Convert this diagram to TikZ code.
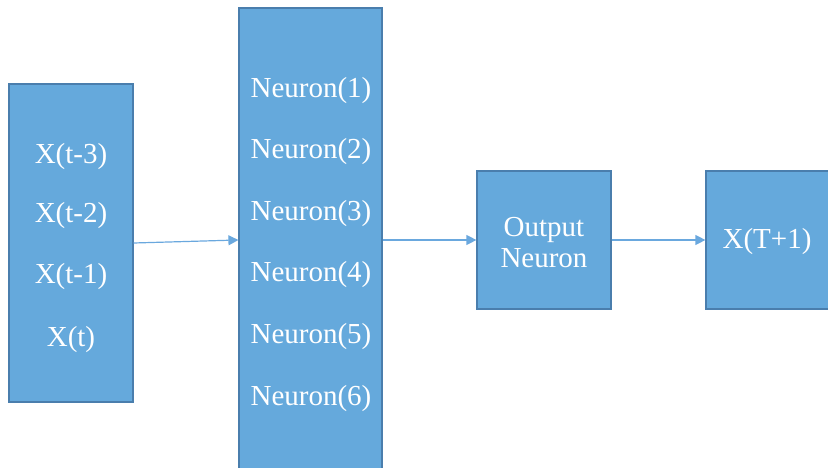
\documentclass[tikz,border=0pt]{standalone}
\usepackage{fontspec}
\setmainfont{Liberation Serif}
\usetikzlibrary{arrows.meta}
\definecolor{boxfill}{HTML}{65A9DC}
\definecolor{boxline}{HTML}{4A7EAD}
\definecolor{arrowcol}{HTML}{6AA8DE}

\begin{document}
\begin{tikzpicture}[x=1pt,y=-1pt,
    layer/.style={draw=boxline, fill=boxfill, line width=1.2pt, inner sep=0pt},
    lbl/.style={text=white, inner sep=0pt, font=\fontsize{29}{31}\selectfont},
    link/.style={draw=arrowcol, line width=1.2pt, -{Triangle[length=10pt,width=10pt]}}]
    \clip (0,0) rectangle (828,468);
    % boxes
    \node[layer, minimum width=124pt, minimum height=318pt] (inp) at (71,243) {};
    \node[layer, minimum width=143pt, minimum height=464pt] (hid) at (310.5,240) {};
    \node[layer, minimum width=134pt, minimum height=138pt] (out) at (544,240) {};
    \node[layer, minimum width=140pt, minimum height=138pt] (res) at (776,240) {};
    % input labels
    \node[lbl] (x3) at (71,157) {X(t-3)};
    \node[lbl] (x2) at (71,216) {X(t-2)};
    \node[lbl] (x1) at (71,277) {X(t-1)};
    \node[lbl] (x0) at (71,340) {X(t)};
    % hidden labels
    \foreach \i/\y in {1/91,2/152,3/214,4/275,5/337,6/399}
        \node[lbl] (n\i) at (311,\y) {Neuron(\i)};
    \node[lbl, align=center] (on) at (544,243) {Output\\Neuron};
    \node[lbl] (xt) at (767,242) {X(T+1)};
    % connectors
    \draw[link] (inp.east) -- (hid.west);
    \draw[link] (hid.east) -- (out.west);
    \draw[link] (out.east) -- (res.west);
\end{tikzpicture}
\end{document}
